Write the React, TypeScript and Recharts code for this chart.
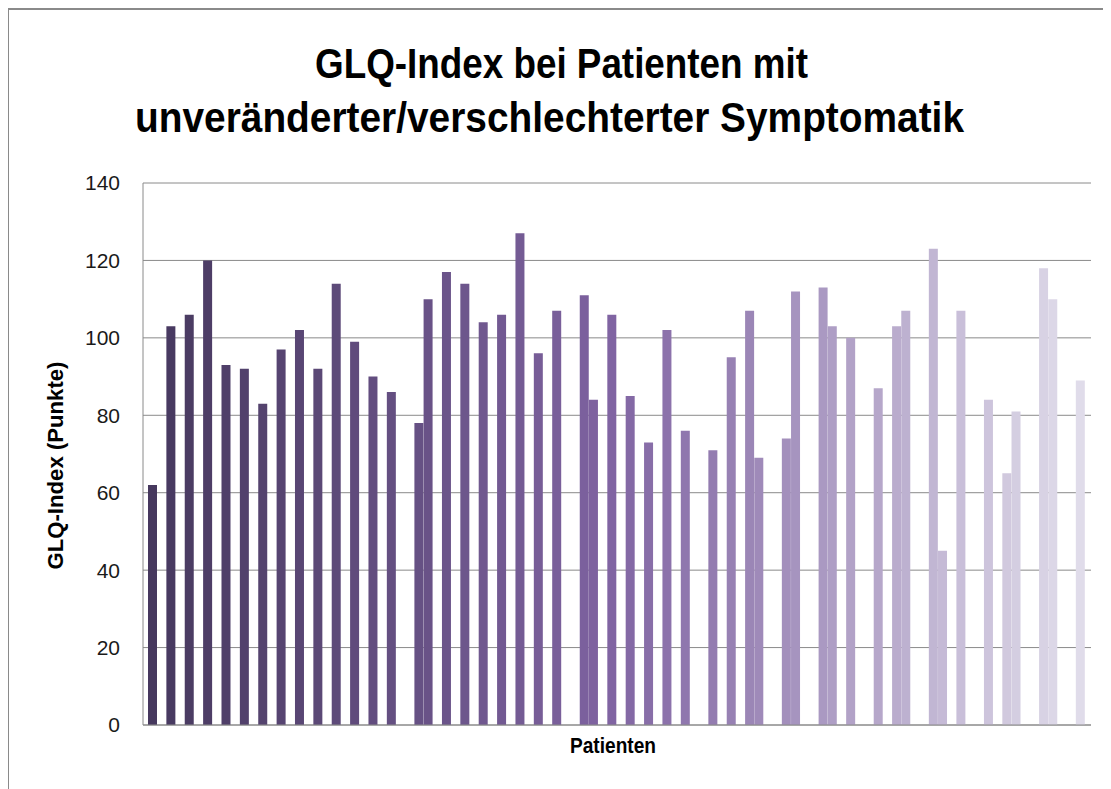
import React from 'react';
import { BarChart, Bar, XAxis, YAxis, CartesianGrid, Cell } from 'recharts';

// Chart content
const titleLines = ['GLQ-Index bei Patienten mit', 'unveränderter/verschlechterter Symptomatik'];
const yAxisTitle = 'GLQ-Index (Punkte)';
const xAxisTitle = 'Patienten';
const yTicks = [0, 20, 40, 60, 80, 100, 120, 140];

// Slot grid along the category axis (empty slots have no bar)
const slotCount = 102;
const patientSlots = [
  0, 2, 4, 6, 8, 10, 12, 14, 16, 18, 20, 22, 24, 26,
  29, 30, 32, 34, 36, 38, 40, 42, 44, 47, 48,
  50, 52, 54, 56, 58, 61, 63, 65, 66, 69, 70,
  73, 74, 76, 79, 81, 82, 85, 86, 88, 91, 93, 94, 97, 98, 101,
];
const glqValues = [
  62, 103, 106, 120, 93, 92, 83, 97, 102, 92, 114, 99, 90, 86,
  78, 110, 117, 114, 104, 106, 127, 96, 107, 111, 84,
  106, 85, 73, 102, 76, 71, 95, 107, 69, 74, 112,
  113, 103, 100, 87, 103, 107, 123, 45, 107, 84, 65, 81, 118, 110, 89,
];

const colorStops = ['#46385E', '#8064A2', '#E0DCEA'];

function hexToRgb(h: string) {
  return [parseInt(h.slice(1, 3), 16), parseInt(h.slice(3, 5), 16), parseInt(h.slice(5, 7), 16)];
}
function barColor(i: number, n: number) {
  const t = n <= 1 ? 0 : i / (n - 1);
  const seg = t < 0.5 ? 0 : 1;
  const lt = t < 0.5 ? t / 0.5 : (t - 0.5) / 0.5;
  const a = hexToRgb(colorStops[seg]);
  const b = hexToRgb(colorStops[seg + 1]);
  const c = a.map((v, k) => Math.round(v + (b[k] - v) * lt));
  return `rgb(${c[0]},${c[1]},${c[2]})`;
}

type Row = { slot: number; glq: number | null; patient: number };
const data: Row[] = Array.from({ length: slotCount }, (_, slot) => ({ slot, glq: null, patient: -1 }));
patientSlots.forEach((s, i) => {
  data[s].glq = glqValues[i];
  data[s].patient = i;
});

const FONT = '"Liberation Sans", Arial, sans-serif';
const W = 1103;
const H = 781;

export default function App() {
  return (
    <div style={{ position: 'relative', width: W, height: H, background: '#fff', fontFamily: FONT }}>
      <div
        style={{
          position: 'absolute',
          left: -1,
          top: 0,
          width: W + 1,
          height: H,
          borderTop: '2px solid #8a8a8a',
          borderLeft: '2px solid #8a8a8a',
          boxSizing: 'border-box',
        }}
      />
      <div style={{ position: 'absolute', left: 0, top: 0 }}>
        <BarChart
          width={W}
          height={H}
          data={data}
          margin={{ top: 175, right: 20, left: 0, bottom: 24 }}
          barCategoryGap={0}
          barGap={0}
        >
          <CartesianGrid vertical={false} stroke="#8a8a8a" strokeWidth={1} />
          <XAxis
            dataKey="slot"
            type="category"
            tick={false}
            tickLine={false}
            axisLine={{ stroke: '#8a8a8a', strokeWidth: 1 }}
            height={40}
            padding={{ left: 5, right: 6 }}
          />
          <YAxis
            domain={[0, 140]}
            ticks={yTicks}
            width={135}
            tickLine={false}
            tickSize={0}
            tickMargin={23}
            axisLine={{ stroke: '#8a8a8a', strokeWidth: 1 }}
            tick={{ fill: '#1a1a1a', fontSize: 21, fontFamily: FONT }}
            interval={0}
          />
          <Bar dataKey="glq" isAnimationActive={false}>
            {data.map((d) => (
              <Cell key={d.slot} fill={d.patient >= 0 ? barColor(d.patient, glqValues.length) : '#ffffff'} />
            ))}
          </Bar>
        </BarChart>
      </div>
      <svg
        width={W}
        height={H}
        style={{ position: 'absolute', left: 0, top: 0, pointerEvents: 'none' }}
      >
        <text
          x={307}
          y={70}
          fontSize={43}
          fontWeight="bold"
          fontFamily={FONT}
          fill="#000"
          textLength={493}
          lengthAdjust="spacingAndGlyphs"
        >
          {titleLines[0]}
        </text>
        <text
          x={127}
          y={124}
          fontSize={43}
          fontWeight="bold"
          fontFamily={FONT}
          fill="#000"
          textLength={829}
          lengthAdjust="spacingAndGlyphs"
        >
          {titleLines[1]}
        </text>
        <text
          x={47}
          y={465}
          transform="rotate(-90, 47, 457.5)"
          textAnchor="middle"
          fontSize={22}
          fontWeight="bold"
          fontFamily={FONT}
          fill="#000"
          textLength={208}
          lengthAdjust="spacingAndGlyphs"
        >
          {yAxisTitle}
        </text>
        <text
          x={605}
          y={745}
          textAnchor="middle"
          fontSize={22}
          fontWeight="bold"
          fontFamily={FONT}
          fill="#000"
          textLength={86}
          lengthAdjust="spacingAndGlyphs"
        >
          {xAxisTitle}
        </text>
      </svg>
    </div>
  );
}
